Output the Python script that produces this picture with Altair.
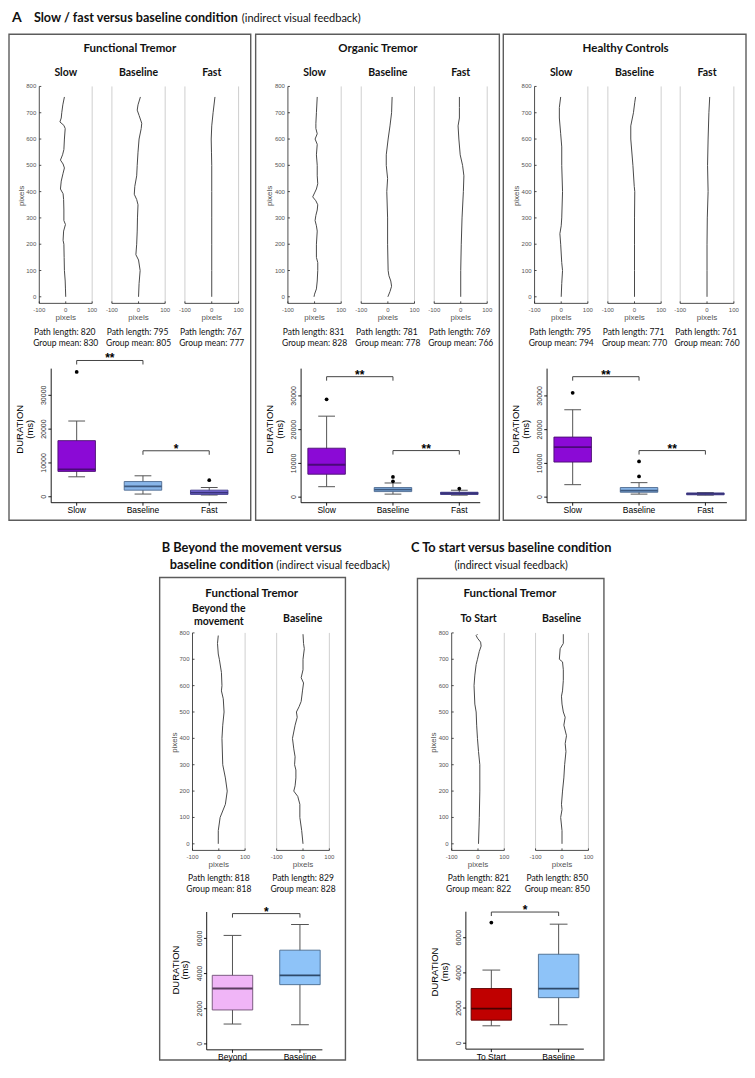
import altair as alt
import pandas as pd

# ---------------- data ----------------
# trajectory traces: vertical position (pixels) and horizontal deviation (pixels)
ft_slow_y = [0, 30, 60, 100, 150, 200, 215, 250, 275, 290, 330, 370, 392, 410, 440, 470, 490, 505, 520, 540, 560, 600, 640, 652, 665, 680, 700, 730, 760]
ft_slow_x = [0, -1, -2, -5, -6, -7, -10, -8, -1, -7, -7, -8, -10, -20, -17, -10, -5, -10, -20, -12, -7, -5, -2, -7, -22, -17, -15, -11, -5]
ft_base_y = [0, 50, 100, 140, 160, 200, 250, 300, 350, 370, 390, 420, 460, 500, 550, 600, 640, 660, 690, 710, 730, 760]
ft_base_x = [0, 2, 6, 0, -10, -7, -5, -4, -2, -7, -16, -14, -7, -5, -2, 2, 10, 12, 2, -5, -2, 7]
ft_fast_y = [0, 100, 200, 300, 400, 500, 550, 600, 650, 700, 760]
ft_fast_x = [0, 0, 0, 0, 0, 0, -1, -2, 0, 5, 12]

ot_slow_y = [0, 10, 30, 60, 100, 130, 150, 200, 250, 270, 290, 310, 330, 350, 365, 380, 395, 410, 430, 460, 500, 540, 580, 600, 620, 640, 660, 700, 760]
ot_slow_x = [-2, 0, 7, 10, 12, 12, 7, 7, 10, 7, 2, 5, 10, 12, 5, -7, 0, 7, 12, 10, 10, 7, 10, 2, 10, 5, 5, 7, 10]
ot_base_y = [0, 20, 40, 60, 80, 100, 200, 300, 400, 450, 500, 540, 600, 650, 700, 760]
ot_base_x = [0, 8, 14, 11, 4, 1, -1, -1, -4, -1, -6, -6, 1, 8, 14, 16]
ot_fast_y = [0, 100, 200, 300, 400, 460, 500, 540, 600, 650, 680, 720, 760]
ot_fast_x = [0, 0, 2, 5, 10, 12, 7, -2, -7, -10, -5, -5, -5]

hc_slow_y = [0, 50, 100, 130, 200, 240, 270, 300, 400, 500, 570, 620, 680, 720, 760]
hc_slow_x = [0, 2, 5, 2, -2, -5, 0, 2, 5, 2, 2, -2, -7, -7, -2]
hc_base_y = [0, 100, 200, 300, 400, 420, 500, 600, 650, 700, 740, 760]
hc_base_x = [0, 0, 0, 0, 1, -1, -6, -14, -14, -4, 1, 4]
hc_fast_y = [0, 100, 200, 300, 400, 500, 600, 700, 760]
hc_fast_x = [0, 0, 0, 1, 4, 2, 4, 7, 10]

b_beyond_y = [0, 50, 100, 150, 200, 250, 300, 400, 450, 500, 550, 580, 600, 650, 700, 720, 760, 790]
b_beyond_x = [-2, -2, 5, 25, 32, 25, 15, 12, 15, 20, 17, 10, 12, 10, 2, -2, -5, -2]
b_base_y = [0, 50, 100, 150, 180, 200, 220, 250, 280, 300, 330, 360, 400, 450, 480, 500, 520, 540, 580, 610, 630, 660, 700, 740, 760, 795]
b_base_x = [0, -5, -12, -12, -20, -35, -30, -27, -27, -32, -30, -35, -40, -30, -22, -25, -15, -7, -2, 2, -7, 0, 0, 5, 2, 0]

c_start_y = [0, 100, 200, 300, 350, 400, 450, 500, 530, 600, 640, 680, 700, 730, 750, 765, 780, 790, 795]
c_start_x = [2, 5, 7, 7, 2, -2, -5, -7, -12, -15, -12, -7, -2, 5, 12, 10, -2, -7, -2]
c_base_y = [0, 50, 100, 130, 150, 200, 250, 300, 350, 380, 410, 450, 480, 500, 530, 560, 580, 620, 660, 690, 700, 740, 760, 795]
c_base_x = [0, 0, -5, 0, -2, 2, 7, 10, 15, 12, 17, 7, 12, 5, 0, -2, 2, 5, 5, 2, -10, -7, 5, 5]

# axis tick values
trace_x_ticks = [-100, 0, 100]
trace_y_ticks = [0, 100, 200, 300, 400, 500, 600, 700, 800]
a_ticks = [0, 10000, 20000, 30000]
bc_ticks = [0, 2000, 4000, 6000]

# path-length captions
ft_path = [("Path length: 820", "Group mean: 830"), ("Path length: 795", "Group mean: 805"), ("Path length: 767", "Group mean: 777")]
ot_path = [("Path length: 831", "Group mean: 828"), ("Path length: 781", "Group mean: 778"), ("Path length: 769", "Group mean: 766")]
hc_path = [("Path length: 795", "Group mean: 794"), ("Path length: 771", "Group mean: 770"), ("Path length: 761", "Group mean: 760")]
b_path = [("Path length: 818", "Group mean: 818"), ("Path length: 829", "Group mean: 828")]
c_path = [("Path length: 821", "Group mean: 822"), ("Path length: 850", "Group mean: 850")]

# box plots (duration, ms)
a_conds = ["Slow", "Baseline", "Fast"]
ft_low = [5900, 800, 500]
ft_q1 = [7500, 1950, 700]
ft_med = [8100, 3100, 1250]
ft_q3 = [16600, 4500, 1950]
ft_up = [22400, 6200, 2750]
ft_out_c = ["Slow", "Fast"]
ft_out_v = [36900, 4900]

ot_low = [3100, 900, 600]
ot_q1 = [6800, 1650, 800]
ot_med = [9600, 2250, 1150]
ot_q3 = [14500, 2850, 1450]
ot_up = [24000, 4200, 2050]
ot_out_c = ["Slow", "Baseline", "Baseline", "Fast"]
ot_out_v = [29000, 6000, 4700, 2550]

hc_low = [3700, 900, 600]
hc_q1 = [10400, 1450, 700]
hc_med = [14800, 1950, 950]
hc_q3 = [17800, 2850, 1250]
hc_up = [25900, 4300, 1350]
hc_out_c = ["Slow", "Baseline", "Baseline"]
hc_out_v = [30900, 10600, 6150]

b_conds = ["Beyond", "Baseline"]
b_low = [1130, 1090]
b_q1 = [1930, 3370]
b_med = [3150, 3900]
b_q3 = [3900, 5330]
b_up = [6170, 6790]
b_out_c = []
b_out_v = []

c_conds = ["To Start", "Baseline"]
c_low = [990, 1050]
c_q1 = [1310, 2590]
c_med = [1970, 3110]
c_q3 = [3110, 5060]
c_up = [4160, 6770]
c_out_c = ["To Start"]
c_out_v = [6860]

# significance brackets: from, to, height, label
ft_sig = (["Slow", "Baseline"], ["Baseline", "Fast"], [40300, 13600], ["**", "*"])
ot_sig = (["Slow", "Baseline"], ["Baseline", "Fast"], [35700, 13800], ["**", "**"])
hc_sig = (["Slow", "Baseline"], ["Baseline", "Fast"], [35700, 13800], ["**", "**"])
b_sig = (["Beyond"], ["Baseline"], [7410], ["*"])
c_sig = (["To Start"], ["Baseline"], [7460], ["*"])

# ---------------- layout helpers ----------------
W, H = 739, 1056
KX = 737.0 / 747.0
KY = 1049.0 / 1061.0


def X(xr):
    return round(1 + (xr - 4) * KX, 2)


def Y(yr):
    return round(4 + (yr - 7) * KY, 2)


TF = "Lato"
AF = "Liberation Sans"
AXC = "#222222"
LBL = "#555555"


def txt(s, xr, yr, size, bold=False, align="center", font=TF, color="#111111", angle=0):
    return alt.Chart(pd.DataFrame({"t": [s]})).mark_text(
        align=align, baseline="middle", fontSize=size,
        fontWeight="bold" if bold else "normal", font=font, color=color, angle=angle
    ).encode(x=alt.value(X(xr)), y=alt.value(Y(yr)), text="t:N")


def frame(x0, y0, x1, y1):
    return alt.Chart(pd.DataFrame({"k": [0]})).mark_rect(
        fillOpacity=0, stroke="#5c5c5c", strokeWidth=1.4
    ).encode(x=alt.value(X(x0)), x2=alt.value(X(x1)), y=alt.value(Y(y0)), y2=alt.value(Y(y1)))


def trace_plot(xs, ys, xr0, xr1, ytop, ybot, first):
    xsc = alt.Scale(domain=[-100, 100], range=[X(xr0), X(xr1)], nice=False, zero=False)
    ysc = alt.Scale(domain=[-25, 800], range=[Y(ybot), Y(ytop)], nice=False, zero=False)
    ppx = (X(xr1) - X(xr0)) / 200.0
    ppy = (Y(ybot) - Y(ytop)) / 825.0

    def XQ(f):
        return alt.X(f + ":Q", scale=xsc, axis=None)

    def YQ(f):
        return alt.Y(f + ":Q", scale=ysc, axis=None)

    fx = [100] if first else [-100, 100]
    L = []
    L.append(alt.Chart(pd.DataFrame({"fx": fx, "y0": [-25] * len(fx), "y1": [800] * len(fx)})).mark_rule(
        color="#cfcfcf", strokeWidth=1).encode(x=XQ("fx"), y=YQ("y0"), y2="y1:Q"))
    # x axis
    L.append(alt.Chart(pd.DataFrame({"x0": [-100], "x1": [100], "y": [-25]})).mark_rule(
        color=AXC, strokeWidth=0.8).encode(x=XQ("x0"), x2="x1:Q", y=YQ("y")))
    n = len(trace_x_ticks)
    L.append(alt.Chart(pd.DataFrame({"t": trace_x_ticks, "y0": [-25] * n, "y1": [-25 + 2.0 / ppy] * n})).mark_rule(
        color=AXC, strokeWidth=0.8).encode(x=XQ("t"), y=YQ("y0"), y2="y1:Q"))
    L.append(alt.Chart(pd.DataFrame({"t": trace_x_ticks, "y": [-25] * n})).mark_text(
        dy=6.5, fontSize=6, color=LBL, font=AF, baseline="middle").encode(
        x=XQ("t"), y=YQ("y"), text="t:N"))
    L.append(alt.Chart(pd.DataFrame({"t": ["pixels"], "x": [0], "y": [-25]})).mark_text(
        dy=15, fontSize=8, color=LBL, font=AF, baseline="middle").encode(
        x=XQ("x"), y=YQ("y"), text="t:N"))
    if first:
        m = len(trace_y_ticks)
        L.append(alt.Chart(pd.DataFrame({"x": [-100], "y0": [-25], "y1": [800]})).mark_rule(
            color=AXC, strokeWidth=0.8).encode(x=XQ("x"), y=YQ("y0"), y2="y1:Q"))
        L.append(alt.Chart(pd.DataFrame({"t": trace_y_ticks, "x0": [-100] * m, "x1": [-100 + 2.0 / ppx] * m})).mark_rule(
            color=AXC, strokeWidth=0.8).encode(x=XQ("x0"), x2="x1:Q", y=YQ("t")))
        L.append(alt.Chart(pd.DataFrame({"t": trace_y_ticks, "x": [-100] * m})).mark_text(
            dx=-3, align="right", baseline="middle", fontSize=6, color=LBL, font=AF).encode(
            x=XQ("x"), y=YQ("t"), text="t:N"))
    L.append(alt.Chart(pd.DataFrame({"x": xs, "y": ys})).mark_line(color="#4a4a4a", strokeWidth=1).encode(
        x=XQ("x"), y=YQ("y"), order="y:Q"))
    out = [alt.layer(*L)]
    if first:
        out.append(txt("pixels", xr0 - 18, (ytop + ybot) / 2 + 1, 8, font=AF, color=LBL, angle=270))
    return out


def box_plot(conds, low, q1, med, q3, up, out_c, out_v, sig, geo, ticks, fills, strokes, medcols, ymid):
    ax, xend, c1, step, y0, yref, vref, ybot, ytop, bw, cw = geo
    n = len(conds)
    pos = {c: i + 1 for i, c in enumerate(conds)}
    ppu = (y0 - yref) / vref
    vbot = -(ybot - y0) / ppu
    vtop = (y0 - ytop) / ppu
    cn = c1 + (n - 1) * step
    xmin = 1 - (c1 - ax) / step
    xmax = n + (xend - cn) / step
    xsc = alt.Scale(domain=[xmin, xmax], range=[X(ax), X(xend)], nice=False, zero=False)
    ysc = alt.Scale(domain=[vbot, vtop], range=[Y(ybot), Y(ytop)], nice=False, zero=False)
    ppx = step * KX
    ppy = ppu * KY

    def XQ(f):
        return alt.X(f + ":Q", scale=xsc, axis=None)

    def YQ(f):
        return alt.Y(f + ":Q", scale=ysc, axis=None)

    df = pd.DataFrame({"cond": conds, "p": [pos[c] for c in conds], "low": low, "q1": q1,
                       "med": med, "q3": q3, "up": up})
    L = []
    # axes
    L.append(alt.Chart(pd.DataFrame({"x": [xmin], "y0": [vbot], "y1": [vtop]})).mark_rule(
        color="#000000", strokeWidth=0.9).encode(x=XQ("x"), y=YQ("y0"), y2="y1:Q"))
    L.append(alt.Chart(pd.DataFrame({"x0": [xmin], "x1": [xmax], "y": [vbot]})).mark_rule(
        color="#000000", strokeWidth=0.9).encode(x=XQ("x0"), x2="x1:Q", y=YQ("y")))
    k = len(ticks)
    L.append(alt.Chart(pd.DataFrame({"t": ticks, "x0": [xmin - 3.0 / ppx] * k, "x1": [xmin] * k})).mark_rule(
        color="#000000", strokeWidth=0.9).encode(x=XQ("x0"), x2="x1:Q", y=YQ("t")))
    L.append(alt.Chart(pd.DataFrame({"t": ticks, "x": [xmin - 7.5 / ppx] * k})).mark_text(
        angle=270, align="center", baseline="middle", fontSize=7, color="#333333", font=AF).encode(
        x=XQ("x"), y=YQ("t"), text="t:N"))
    L.append(alt.Chart(pd.DataFrame({"p": list(range(1, n + 1)), "y0": [vbot] * n, "y1": [vbot - 3.0 / ppy] * n})).mark_rule(
        color="#000000", strokeWidth=0.9).encode(x=XQ("p"), y=YQ("y0"), y2="y1:Q"))
    L.append(alt.Chart(pd.DataFrame({"p": list(range(1, n + 1)), "c": conds, "y": [vbot] * n})).mark_text(
        dy=7.5, baseline="middle", fontSize=8.5, color="#000000", font=AF).encode(
        x=XQ("p"), y=YQ("y"), text="c:N"))
    # boxes
    L.append(alt.Chart(df).mark_rule(color="#555555", strokeWidth=1).encode(
        x=XQ("p"), y=YQ("low"), y2="up:Q"))
    L.append(alt.Chart(df).mark_tick(orient="horizontal", size=cw * KX, thickness=1, color="#555555", opacity=1).encode(
        x=XQ("p"), y=YQ("low")))
    L.append(alt.Chart(df).mark_tick(orient="horizontal", size=cw * KX, thickness=1, color="#555555", opacity=1).encode(
        x=XQ("p"), y=YQ("up")))
    L.append(alt.Chart(df).mark_bar(orient="vertical", size=bw * KX, strokeWidth=0.9).encode(
        x=XQ("p"), y=YQ("q1"), y2="q3:Q",
        fill=alt.Fill("cond:N", scale=alt.Scale(domain=conds, range=fills), legend=None),
        stroke=alt.Stroke("cond:N", scale=alt.Scale(domain=conds, range=strokes), legend=None)))
    L.append(alt.Chart(df).mark_tick(orient="horizontal", size=bw * KX, thickness=1.8, opacity=1).encode(
        x=XQ("p"), y=YQ("med"),
        color=alt.Color("cond:N", scale=alt.Scale(domain=conds, range=medcols), legend=None)))
    if out_c:
        odf = pd.DataFrame({"p": [pos[c] for c in out_c], "v": out_v})
        L.append(alt.Chart(odf).mark_circle(size=14, color="#000000", opacity=1).encode(
            x=XQ("p"), y=YQ("v")))
    # significance brackets
    sa, sb, sy, st = sig
    drop = 4.0 / ppy
    bdf = pd.DataFrame({"a": [pos[c] for c in sa], "b": [pos[c] for c in sb], "y": sy, "t": st})
    bdf["m"] = (bdf["a"] + bdf["b"]) / 2
    ddf = pd.DataFrame({"xx": list(bdf["a"]) + list(bdf["b"]), "y": list(bdf["y"]) * 2})
    ddf["y2"] = ddf["y"] - drop
    L.append(alt.Chart(bdf).mark_rule(color="#444444", strokeWidth=1).encode(
        x=XQ("a"), x2="b:Q", y=YQ("y")))
    L.append(alt.Chart(ddf).mark_rule(color="#444444", strokeWidth=1).encode(
        x=XQ("xx"), y=YQ("y"), y2="y2:Q"))
    L.append(alt.Chart(bdf).mark_text(fontSize=12, fontWeight="bold", font=AF, color="#000000",
                                      baseline="alphabetic", dy=2).encode(
        x=XQ("m"), y=YQ("y"), text="t:N"))
    return [alt.layer(*L),
            txt("DURATION", ax - 26.5, ymid, 9.5, font=AF, color="#000000", angle=270),
            txt("(ms)", ax - 16.5, ymid, 9.5, font=AF, color="#000000", angle=270)]


layers = []

# ---------------- headings ----------------
layers += [
    txt("A", 7, 13, 14, bold=True, align="left"),
    txt("Slow / fast versus baseline condition", 236, 13, 12.6, bold=True, align="right"),
    txt("(indirect visual feedback)", 240, 14, 11, align="left"),
    txt("B   Beyond the movement versus", 250, 549, 12.8, bold=True),
    txt("baseline condition", 272, 566, 12.8, bold=True, align="right"),
    txt("(indirect visual feedback)", 275, 567, 10.5, align="left"),
    txt("C   To start versus baseline condition", 513, 549, 12.8, bold=True),
    txt("(indirect visual feedback)", 513, 567, 10.5),
]

# ---------------- panel frames ----------------
layers += [frame(4, 29.5, 249, 521), frame(254, 29.5, 501, 521), frame(505, 29.5, 751, 521),
           frame(156.7, 579, 345, 1067), frame(418, 580, 607, 1067)]

# ---------------- top row trajectories ----------------
top_groups = [
    ("Functional Tremor", 126.5, [(ft_slow_x, ft_slow_y), (ft_base_x, ft_base_y), (ft_fast_x, ft_fast_y)],
     [(34.7, 88.3), (108.3, 162.3), (182.3, 236.7)], ft_path),
    ("Organic Tremor", 378, [(ot_slow_x, ot_slow_y), (ot_base_x, ot_base_y), (ot_fast_x, ot_fast_y)],
     [(286.7, 340.7), (361, 415), (435, 488.7)], ot_path),
    ("Healthy Controls", 629, [(hc_slow_x, hc_slow_y), (hc_base_x, hc_base_y), (hc_fast_x, hc_fast_y)],
     [(536.7, 590.7), (611, 665), (684.3, 738.7)], hc_path),
]
for title, tx, traces, spans, paths in top_groups:
    layers.append(txt(title, tx, 44, 11.5, bold=True))
    for i, ((xs, ys), (a, b), (p1, p2), name) in enumerate(zip(traces, spans, paths, a_conds)):
        cx = (a + b) / 2
        layers += trace_plot(xs, ys, a, b, 82.3, 301.7, i == 0)
        layers.append(txt(name, cx, 69, 10.5, bold=True))
        layers.append(txt(p1, cx - 1, 330.7, 8.5))
        layers.append(txt(p2, cx, 341.7, 8.5))

# ---------------- bottom row trajectories ----------------
layers.append(txt("Functional Tremor", 250, 596, 11.5, bold=True))
layers.append(txt("Beyond the", 216.7, 611, 10.5, bold=True))
layers.append(txt("movement", 216.7, 624, 10.5, bold=True))
layers.append(txt("Baseline", 301.7, 621, 10.5, bold=True))
layers.append(txt("Functional Tremor", 511.7, 596, 11.5, bold=True))
layers.append(txt("To Start", 480, 621, 10.5, bold=True))
layers.append(txt("Baseline", 564, 621, 10.5, bold=True))

bottom = [
    (b_beyond_x, b_beyond_y, 190, 243.3, True, b_path[0], 216.7),
    (b_base_x, b_base_y, 275.3, 328.7, False, b_path[1], 302),
    (c_start_x, c_start_y, 452.7, 506, True, c_path[0], 480),
    (c_base_x, c_base_y, 537.7, 591.3, False, c_path[1], 559.7),
]
for xs, ys, a, b, first, (p1, p2), cx in bottom:
    layers += trace_plot(xs, ys, a, b, 635, 855, first)
    layers.append(txt(p1, cx, 883.3, 8.5))
    layers.append(txt(p2, cx, 894.3, 8.5))

# ---------------- box plots ----------------
A_FILL = ["#8B0AD6", "#89B6E9", "#7B6CE0"]
A_STROKE = ["#4A1070", "#4E6A8E", "#3F3A86"]
A_MED = ["#4A0A78", "#3E5A80", "#38337A"]

layers += box_plot(a_conds, ft_low, ft_q1, ft_med, ft_q3, ft_up, ft_out_c, ft_out_v, ft_sig,
                   (41.7, 230, 69, 71, 497.3, 394.7, 30000, 503.3, 367.7, 38, 17),
                   a_ticks, A_FILL, A_STROKE, A_MED, 429)
layers += box_plot(a_conds, ot_low, ot_q1, ot_med, ot_q3, ot_up, ot_out_c, ot_out_v, ot_sig,
                   (295, 486.7, 322.3, 71, 497.7, 395.3, 30000, 503.3, 367.7, 38, 17),
                   a_ticks, A_FILL, A_STROKE, A_MED, 429)
layers += box_plot(a_conds, hc_low, hc_q1, hc_med, hc_q3, hc_up, hc_out_c, hc_out_v, hc_sig,
                   (544.3, 736.7, 571.7, 71, 497.7, 395.3, 30000, 503.3, 367.7, 38, 17),
                   a_ticks, A_FILL, A_STROKE, A_MED, 429)
layers += box_plot(b_conds, b_low, b_q1, b_med, b_q3, b_up, b_out_c, b_out_v, b_sig,
                   (199.3, 326.7, 227.7, 74.3, 1050.7, 944, 6000, 1056.7, 917.3, 41, 18),
                   bc_ticks, ["#F0B5F7", "#8EC3F8"], ["#6E4F74", "#4A6A8C"], ["#5A3D60", "#2E4A6A"], 976)
layers += box_plot(c_conds, c_low, c_q1, c_med, c_q3, c_up, c_out_c, c_out_v, c_sig,
                   (462, 591.7, 490, 74, 1050, 943.3, 6000, 1056, 917, 41, 18),
                   bc_ticks, ["#C00000", "#8EC3F8"], ["#5C0000", "#4A6A8C"], ["#4A0000", "#2E4A6A"], 978)

chart = alt.layer(*layers).resolve_scale(
    x="independent", y="independent", fill="independent", stroke="independent", color="independent"
).properties(
    width=W, height=H, padding=0, autosize=alt.AutoSizeParams(type="none"), background="white"
).configure_view(strokeWidth=0)

chart.save("out.html", embed_options={"renderer": "svg", "actions": False})
